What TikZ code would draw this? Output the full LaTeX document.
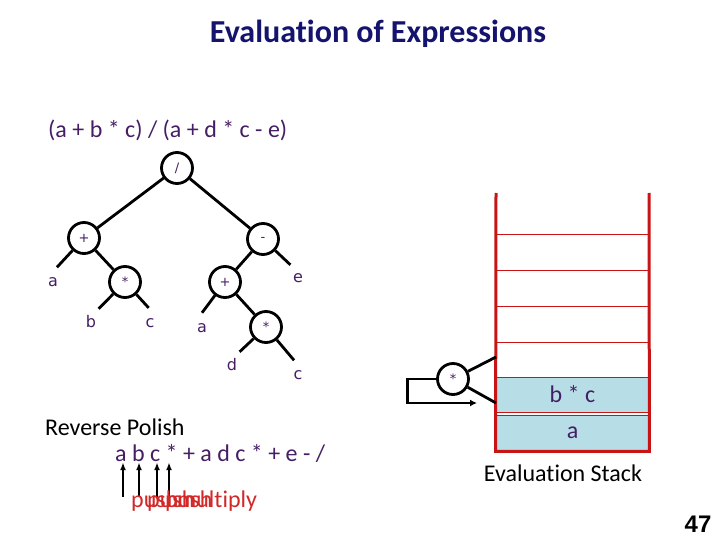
\documentclass[tikz,border=0pt]{standalone}
\usepackage{fontspec}
\setmainfont{Carlito}[Ligatures=NoCommon, RawFeature={-calt}]
\newfontfamily\treefont{DejaVu Sans}
\newfontfamily\numfont{Liberation Sans}
\usepackage{tikz}
\usetikzlibrary{arrows.meta}
\definecolor{titleblue}{RGB}{20,20,110}
\definecolor{exprpurple}{RGB}{70,30,100}
\definecolor{stackred}{RGB}{200,20,20}
\definecolor{cellblue}{RGB}{183,222,230}
\definecolor{notered}{RGB}{210,40,40}
\tikzset{
	op/.style={circle, draw, line width=2.8pt, minimum size=31pt, inner sep=0pt, text=exprpurple, font=\treefont\fontsize{13}{13}\selectfont},
	leaf/.style={circle, minimum size=30pt, inner sep=0pt, text=exprpurple, font=\treefont\fontsize{16}{16}\selectfont},
	edge/.style={line width=2.8pt},
	cell/.style={rectangle, draw=stackred, line width=0.8pt, minimum width=153pt, inner sep=0pt, text=exprpurple, font=\fontsize{24}{24}\selectfont},
	wall/.style={draw=stackred, line width=3pt},
	txt/.style={inner sep=0pt, font=\fontsize{24}{24}\selectfont},
	ptr/.style={line width=2pt, -{Latex[length=8pt,width=6pt]}}
}

\begin{document}
\begin{tikzpicture}[x=1pt, y=-1pt]
	\fill[white] (0,0) rectangle (720,540);
	\useasboundingbox (0,0) rectangle (720,540);
	\node[txt, font=\bfseries\fontsize{32}{32}\selectfont, text=titleblue] (title) at (378,34) {Evaluation of Expressions};
	\node[txt, anchor=west, text=exprpurple] (expr) at (48,130) {(a + b * c) / (a + d * c - e)};

	\node[op] (div) at (177,168) {/};
	\node[op] (plusL) at (84,238) {+};
	\node[op] (minus) at (263,239) {-};
	\node[op] (mulL) at (125,282) {*};
	\node[op] (plusR) at (225,282) {+};
	\node[op] (mulR) at (266,327) {*};
	\node[leaf] (a1) at (53,282) {a};
	\node[leaf] (b1) at (91,322) {b};
	\node[leaf] (c1) at (150,323) {c};
	\node[leaf] (e1) at (298,278) {e};
	\node[leaf] (a2) at (202,328) {a};
	\node[leaf] (d1) at (232,365) {d};
	\node[leaf] (c2) at (298,375) {c};
	\draw[edge] (div) -- (plusL) (div) -- (minus)
				(plusL) -- (a1.75) (plusL) -- (mulL)
				(mulL) -- (b1.60) (mulL) -- (c1.95)
				(minus) -- (plusR) (minus) -- (e1.120)
				(plusR) -- (a2.90) (plusR) -- (mulR)
				(mulR) -- (d1.60) (mulR) -- (c2.105);

	\node[cell, minimum height=36pt] (s1) at (572.5,252) {};
	\node[cell, minimum height=36pt] (s2) at (572.5,288) {};
	\node[cell, minimum height=36pt] (s3) at (572.5,324) {};
	\node[cell, minimum height=35pt] (s4) at (572.5,359.5) {};
	\node[cell, minimum height=35pt, fill=cellblue] (sbc) at (572.5,394.5) {b * c};
	\node[cell, minimum height=36pt, fill=cellblue] (sa) at (572.5,433) {a};
	\coordinate (topL) at (496,193);
	\coordinate (topR) at (649,193);
	\draw[wall] (topL) -- (sa.south west) -- (sa.south east) -- (topR);
	\node[txt] (stacklbl) at (563,473) {Evaluation Stack};

	\node[op] (star) at (453,379) {*};
	\coordinate (in1) at (496,357);
	\coordinate (in2) at (496,403);
	\coordinate (back) at (477,403);
	\draw[edge] (star) -- (in1) (star) -- (in2);
	\draw[edge, -{Latex[length=7pt,width=7pt]}] (star.west) -- ++(-29,0) |- (back);

	\node[txt, anchor=west] (rp) at (45,427) {Reverse Polish};
	\node[txt, anchor=west, text=exprpurple] (rpn) at (115,453) {a b c * + a d c * + e - /};
	\foreach \x/\n in {123/ta,139/tb,157/tc,169/tm}{
		\coordinate (\n) at (\x,497);
		\draw[ptr] (\n) -- (\n |- rpn.south);
	}
	\foreach \x/\t/\n in {131/push/lpa,147/push/lpb,165/push/lpc,177/multiply/lmul}
		\node[txt, anchor=base west, text=notered] (\n) at (\x,507) {\t};

	\node[txt, font=\numfont\bfseries\fontsize{24}{24}\selectfont] (pageno) at (698,524) {47};
\end{tikzpicture}
\end{document}
